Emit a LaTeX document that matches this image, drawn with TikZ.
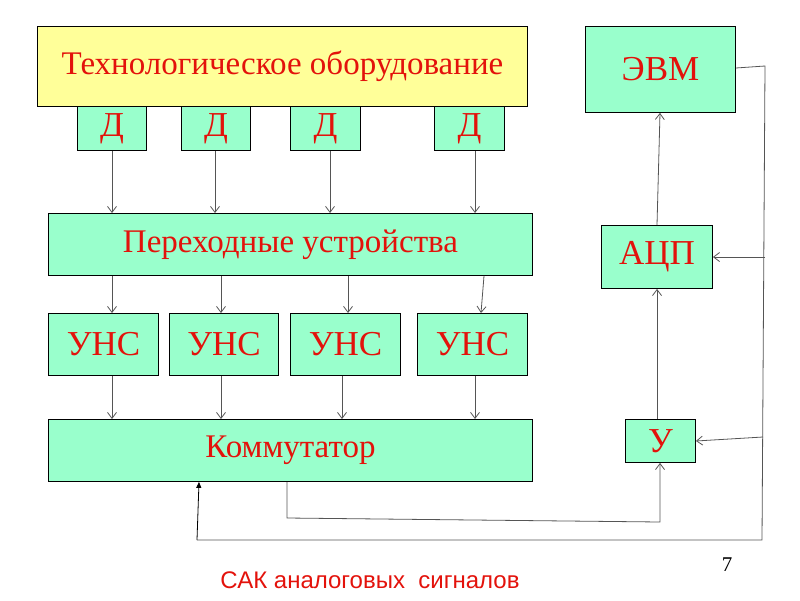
\documentclass[tikz,border=0pt]{standalone}
\usepackage{fontspec}
\setmainfont{Liberation Serif}
\newfontfamily\capfont{Liberation Sans}
\usetikzlibrary{arrows.meta}
\definecolor{boxgreen}{HTML}{99FFCC}
\definecolor{boxyellow}{HTML}{FFFF99}
\definecolor{txtred}{HTML}{E3120B}
\definecolor{linegray}{HTML}{555555}
\tikzset{
  blk/.style={draw=black, line width=0.9pt, fill=boxgreen, text=txtred, inner sep=0pt, anchor=north west},
  conn/.style={draw=linegray, line width=0.8pt, -{Straight Barb[length=6pt,width=9pt]}},
  wire/.style={draw=linegray, line width=0.8pt},
  big/.style={font=\fontsize{35}{40}\selectfont},
}
\begin{document}
\begin{tikzpicture}[x=1pt,y=-1pt]
\useasboundingbox (0,0) rectangle (800,600);
% top yellow block
\node[blk, fill=boxyellow, minimum width=490pt, minimum height=80pt, font=\fontsize{33}{38}\selectfont] (tech) at (37,26) {Технологическое оборудование};
% sensors
\node[blk, big, minimum width=69pt, minimum height=44pt] (d1) at (77,106) {Д};
\node[blk, big, minimum width=69pt, minimum height=44pt] (d2) at (181,106) {Д};
\node[blk, big, minimum width=70pt, minimum height=44pt] (d3) at (290,106) {Д};
\node[blk, big, minimum width=70pt, minimum height=44pt] (d4) at (434,106) {Д};
% transition devices
\node[blk, minimum width=484pt, minimum height=62pt, font=\fontsize{33}{38}\selectfont] (per) at (48,213) {Переходные устройства};
% UNS
\node[blk, big, minimum width=110pt, minimum height=62pt] (u1) at (48,313) {УНС};
\node[blk, big, minimum width=109pt, minimum height=62pt] (u2) at (169,313) {УНС};
\node[blk, big, minimum width=110pt, minimum height=62pt] (u3) at (290,313) {УНС};
\node[blk, big, minimum width=110pt, minimum height=62pt] (u4) at (417,313) {УНС};
% commutator
\node[blk, minimum width=484pt, minimum height=62pt, font=\fontsize{33}{38}\selectfont] (kom) at (48,419) {Коммутатор};
% right column
\node[blk, big, minimum width=150pt, minimum height=86pt] (evm) at (585,26) {ЭВМ};
\node[blk, big, minimum width=111pt, minimum height=63pt] (acp) at (601,225) {АЦП};
\node[blk, big, minimum width=70pt, minimum height=43pt] (y) at (625,419) {У};
% arrows D -> per
\draw[conn] (d1.south -| 112,0) -- (per.north -| 112,0);
\draw[conn] (d2.south -| 215,0) -- (per.north -| 215,0);
\draw[conn] (d3.south -| 330,0) -- (per.north -| 330,0);
\draw[conn] (d4.south -| 475,0) -- (per.north -| 475,0);
% per -> UNS
\draw[conn] (per.south -| 112,0) -- (u1.north -| 112,0);
\draw[conn] (per.south -| 221,0) -- (u2.north -| 221,0);
\draw[conn] (per.south -| 348,0) -- (u3.north -| 348,0);
\draw[conn] (per.south -| 484,0) -- (u4.north -| 481,0);
% UNS -> kom
\draw[conn] (u1.south -| 112,0) -- (kom.north -| 112,0);
\draw[conn] (u2.south -| 221,0) -- (kom.north -| 221,0);
\draw[conn] (u3.south -| 342,0) -- (kom.north -| 342,0);
\draw[conn] (u4.south -| 475,0) -- (kom.north -| 475,0);
% right column arrows
\draw[conn] (acp.north -| 657,0) -- (evm.south -| 660,0);
\draw[conn] (y.north -| 657,0) -- (acp.south -| 657,0);
% commutator -> Y
\coordinate (k1) at (287,518);
\coordinate (k2) at (660,522);
\draw[conn] (kom.south -| 287,0) -- (k1) -- (k2) -- (y.south -| 660,0);
% feedback from EVM
\coordinate (e1) at (765,66);
\coordinate (e2) at (762,540);
\coordinate (e3) at (197,540);
\draw[wire] (evm.east |- 0,68) -- (e1) -- (e2) -- (e3);
\draw[draw=black, line width=0.8pt, -{Triangle[length=6pt,width=5pt]}] (e3) -- (kom.south -| 199,0);
\coordinate (a1) at (765,257);
\draw[conn] (a1) -- (acp.east |- 0,257);
\coordinate (a2) at (763,437);
\draw[conn] (a2) -- (y.east |- 0,441);
% labels
\node[font=\fontsize{21}{24}\selectfont] (pg) at (727,565) {7};
\node[text=txtred, font=\capfont\fontsize{24}{28}\selectfont] (cap) at (370,580) {САК аналоговых\ \ сигналов};
\end{tikzpicture}
\end{document}
